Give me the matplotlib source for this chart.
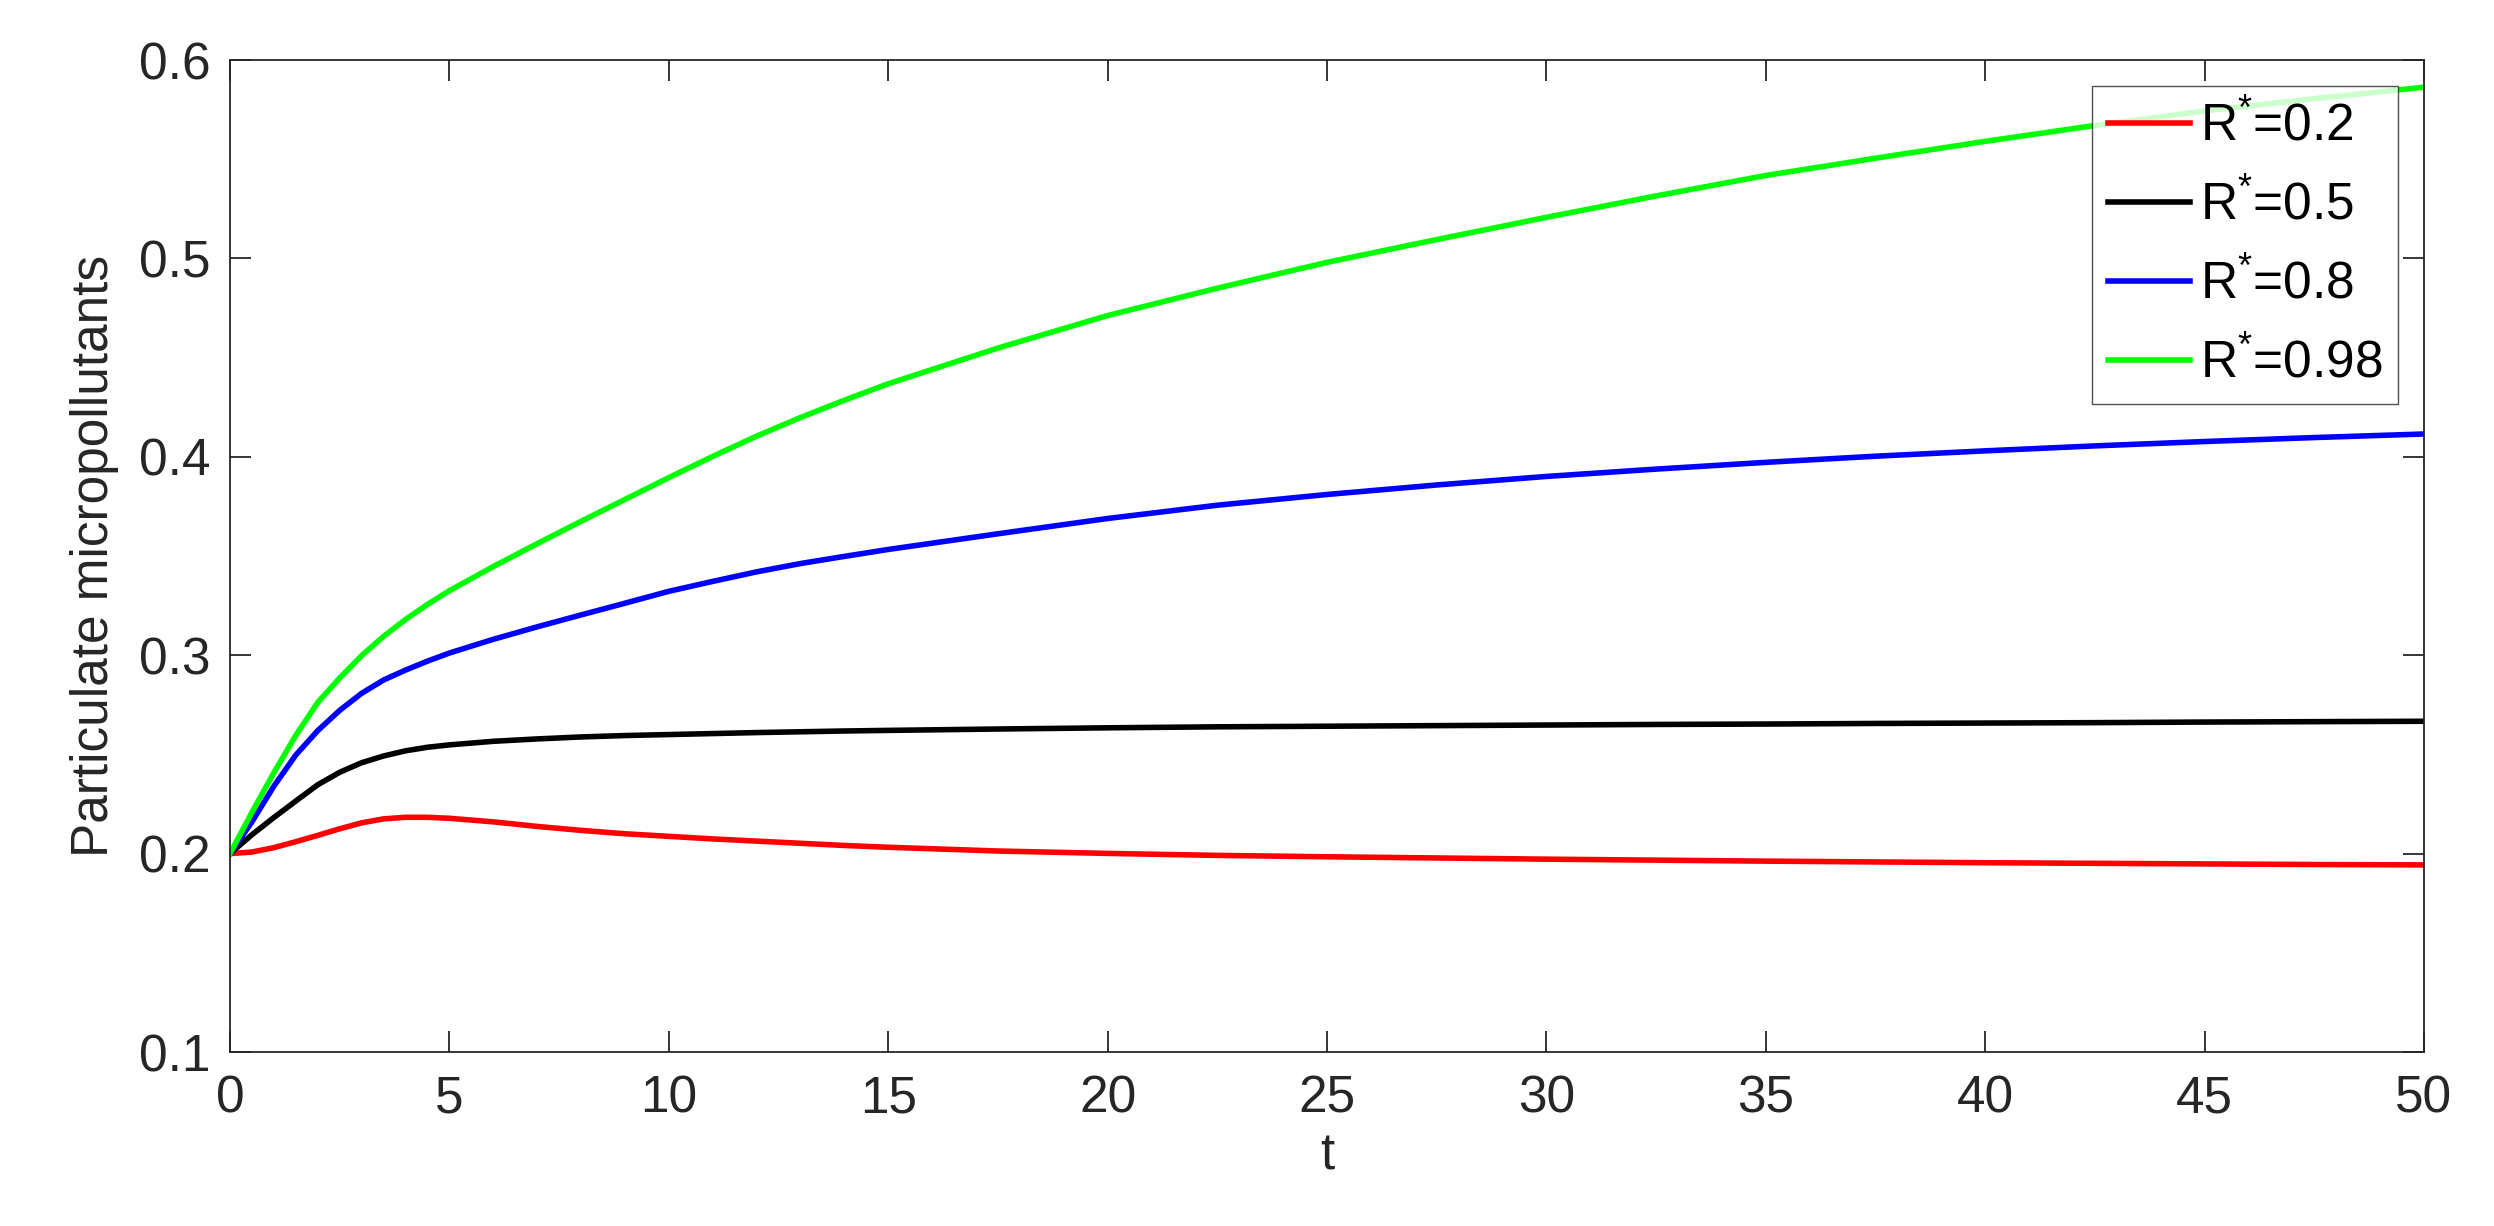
import numpy as np
import matplotlib
matplotlib.use("Agg")
import matplotlib.pyplot as plt

plt.rcParams['font.family'] = ['Liberation Sans', 'DejaVu Sans']
plt.rcParams['mathtext.fontset'] = 'custom'
plt.rcParams['mathtext.rm'] = 'Liberation Sans'
plt.rcParams['mathtext.it'] = 'Liberation Sans'

# values
t = [0, 0.5, 1, 1.5, 2, 2.5, 3, 3.5, 4, 4.5, 5, 6, 7, 8, 9, 10, 11, 12, 13, 14, 15,
     17.5, 20, 22.5, 25, 27.5, 30, 32.5, 35, 37.5, 40, 42.5, 45, 47.5, 50]

red = [0.2, 0.2008, 0.2030, 0.2060, 0.2092, 0.2125, 0.2155, 0.2175, 0.2183, 0.2183,
       0.2178, 0.2160, 0.2137, 0.2117, 0.2100, 0.2087, 0.2074, 0.2063, 0.2052, 0.2041,
       0.2032, 0.2013, 0.2001, 0.1991, 0.1984, 0.1978, 0.1972, 0.1967, 0.1962, 0.1958,
       0.1954, 0.1951, 0.1948, 0.1945, 0.1943]
black = [0.2, 0.2095, 0.2182, 0.2265, 0.2347, 0.2410, 0.2458, 0.2492, 0.2518, 0.2536,
         0.2548, 0.2566, 0.2578, 0.2588, 0.2595, 0.2600, 0.2605, 0.2610, 0.2614, 0.2618,
         0.2621, 0.2628, 0.2634, 0.2639, 0.2642, 0.2645, 0.2648, 0.2651, 0.2653, 0.2656,
         0.2658, 0.2660, 0.2663, 0.2665, 0.2667]
blue = [0.2, 0.2160, 0.2340, 0.2497, 0.2620, 0.2722, 0.2808, 0.2875, 0.2925, 0.2970,
        0.3011, 0.3080, 0.3143, 0.3203, 0.3262, 0.3322, 0.3372, 0.3420, 0.3462, 0.3498,
        0.3533, 0.3612, 0.3689, 0.3756, 0.3810, 0.3858, 0.3901, 0.3938, 0.3972, 0.4003,
        0.4030, 0.4055, 0.4077, 0.4097, 0.4115]
green = [0.2, 0.2208, 0.2408, 0.2596, 0.2762, 0.2885, 0.2998, 0.3095, 0.3180, 0.3256,
         0.3325, 0.3447, 0.3562, 0.3675, 0.3785, 0.3895, 0.4002, 0.4104, 0.4198, 0.4285,
         0.4368, 0.4548, 0.4712, 0.4850, 0.4980, 0.5095, 0.5207, 0.5315, 0.5418, 0.5505,
         0.5590, 0.5670, 0.5743, 0.5805, 0.5863]

labels = [r'R$^{*}$=0.2', r'R$^{*}$=0.5', r'R$^{*}$=0.8', r'R$^{*}$=0.98']
colors = ['#ff0000', '#000000', '#0000ff', '#00ff00']

xticks = [0, 5, 10, 15, 20, 25, 30, 35, 40, 45, 50]
yticks = [0.1, 0.2, 0.3, 0.4, 0.5, 0.6]
yticklabels = ['0.1', '0.2', '0.3', '0.4', '0.5', '0.6']

fig = plt.figure(figsize=(24.94, 12.26), dpi=100)
ax = fig.add_axes([230 / 2494, 1 - 1052 / 1226, 2194 / 2494, 992 / 1226])

for y, c, lab in zip([red, black, blue, green], colors, labels):
    ax.plot(t, y, color=c, lw=4.0, label=lab, solid_joinstyle='round')

ax.set_xlim(0, 50)
ax.set_ylim(0.1, 0.6)
ax.set_xticks(xticks)
ax.set_yticks(yticks)
ax.set_yticklabels(yticklabels)

gray = '#262626'
for s in ax.spines.values():
    s.set_color(gray)
    s.set_linewidth(1.3)
ax.tick_params(direction='in', top=True, right=True, length=15, width=1.3,
               colors=gray, labelsize=37)
ax.tick_params(axis='x', pad=16)
ax.tick_params(axis='y', pad=14)

ax.set_xlabel('t', fontsize=37, color=gray, labelpad=6)
ax.set_ylabel('Particulate micropollutants', fontsize=37, color=gray, labelpad=14)

leg = ax.legend(loc='upper right', fontsize=37, frameon=True, fancybox=False,
                handlelength=1.6, handletextpad=0.2, labelspacing=0.56,
                borderpad=0.3, borderaxespad=0.5)
leg.get_frame().set_edgecolor(gray)
leg.get_frame().set_linewidth(1.0)

fig.savefig('out.png', dpi=100)
